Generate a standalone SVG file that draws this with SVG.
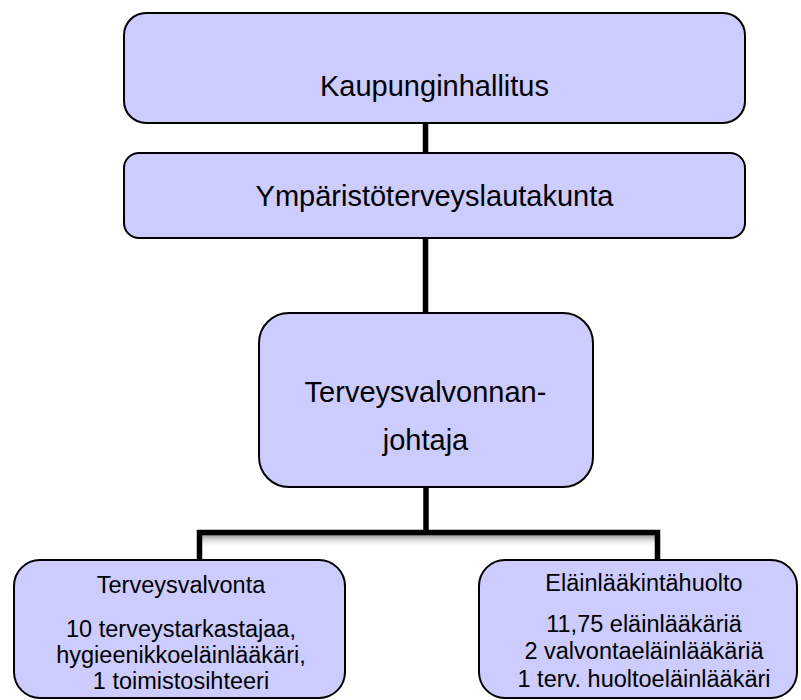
<svg xmlns="http://www.w3.org/2000/svg" width="801" height="700" viewBox="0 0 801 700">
<style>
.box{fill:#ccccff;stroke:#000;stroke-width:2}
.t{font-family:"Liberation Sans",Arial,sans-serif;fill:#000;text-anchor:middle}
.big{font-size:29px}
.sm{font-size:23.5px}
.con{stroke:#000;stroke-width:5.5;fill:none}
</style>
<defs>
<linearGradient id="sh" x1="0" y1="0" x2="0" y2="1">
<stop offset="0" stop-color="#999999"/>
<stop offset="1" stop-color="#ffffff" stop-opacity="0"/>
</linearGradient>
</defs>
<rect width="801" height="700" fill="#fff"/>
<g id="connectors">
<rect x="202" y="535" width="453" height="13" fill="url(#sh)"/>
<line class="con" x1="425.5" y1="123" x2="425.5" y2="153"/>
<line class="con" x1="425.5" y1="238" x2="425.5" y2="313"/>
<line class="con" x1="426" y1="487" x2="426" y2="532"/>
<polyline class="con" points="199.5,560 199.5,532.5 657.5,532.5 657.5,560"/>
</g>
<g id="kaupunginhallitus">
<rect class="box" x="124" y="13" width="621" height="110" rx="22"/>
<text class="t big" x="434.5" y="96">Kaupunginhallitus</text>
</g>
<g id="ymparistoterveyslautakunta">
<rect class="box" x="124" y="153" width="621" height="85" rx="15"/>
<text class="t big" x="434.5" y="206">Ympäristöterveyslautakunta</text>
</g>
<g id="johtaja">
<rect class="box" x="259" y="313" width="334" height="174" rx="30"/>
<text class="t big" x="425.5" y="402">Terveysvalvonnan-</text>
<text class="t big" x="425.5" y="450">johtaja</text>
</g>
<g id="terveysvalvonta">
<rect class="box" x="14" y="560" width="331" height="138" rx="26"/>
<text class="t sm" x="181" y="593">Terveysvalvonta</text>
<text class="t sm" x="181" y="637">10 terveystarkastajaa,</text>
<text class="t sm" x="181" y="663">hygieenikkoeläinlääkäri,</text>
<text class="t sm" x="181" y="689">1 toimistosihteeri</text>
</g>
<g id="elainlaakintahuolto">
<rect class="box" x="479" y="560" width="318" height="138" rx="26"/>
<text class="t sm" x="644" y="591">Eläinlääkintähuolto</text>
<text class="t sm" x="644" y="632">11,75 eläinlääkäriä</text>
<text class="t sm" x="644" y="659">2 valvontaeläinlääkäriä</text>
<text class="t sm" x="644" y="687">1 terv. huoltoeläinlääkäri</text>
</g>
</svg>
